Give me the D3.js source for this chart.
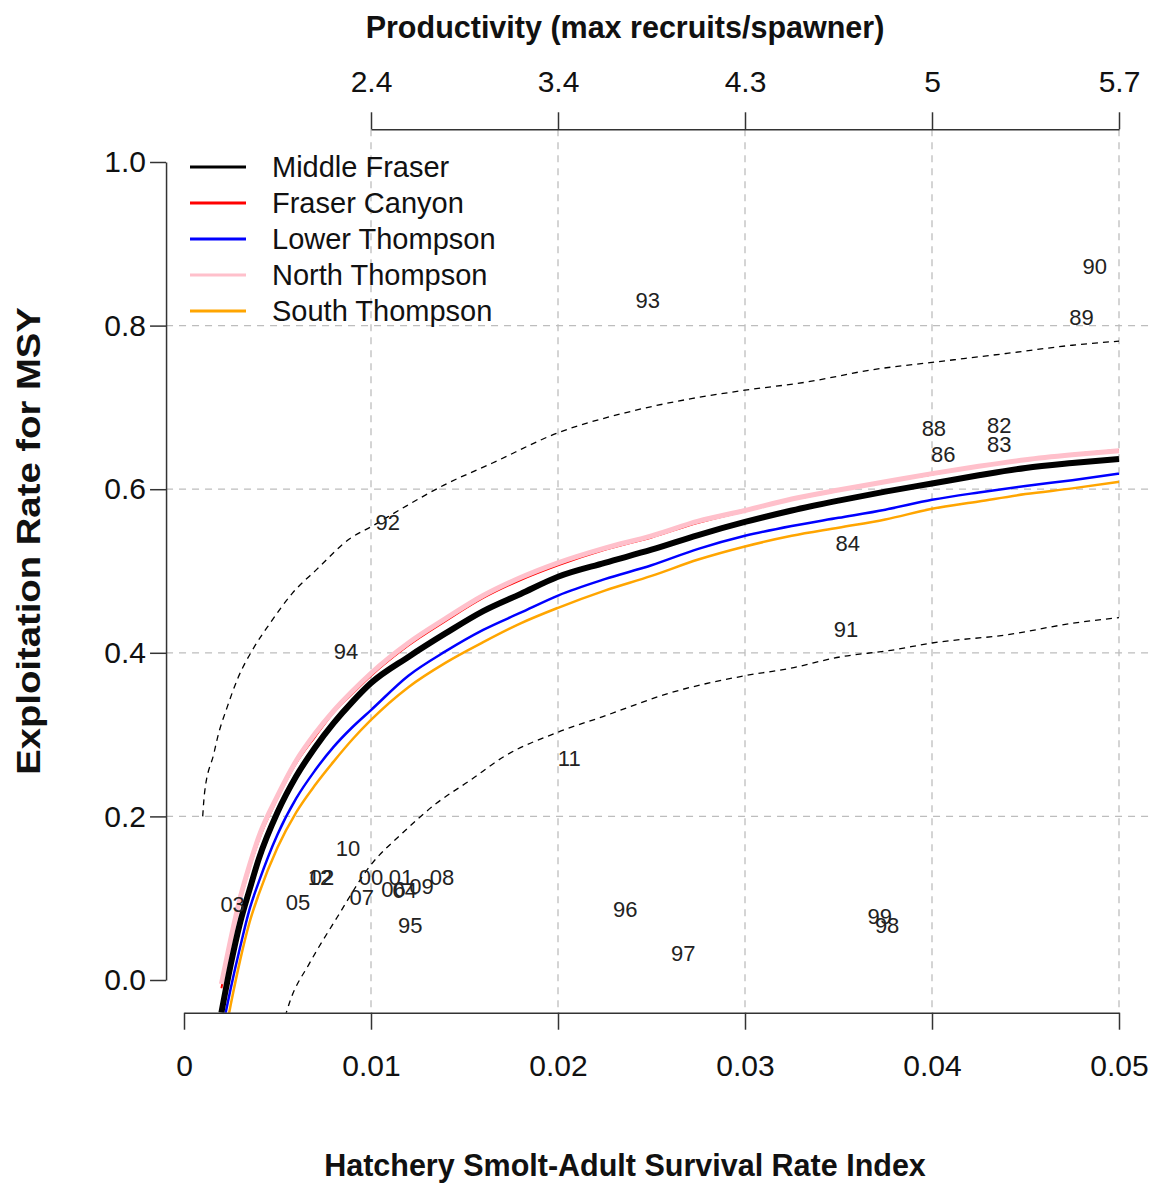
<!DOCTYPE html>
<html>
<head>
<meta charset="utf-8">
<script src="https://cdn.jsdelivr.net/npm/d3@7"></script>
<style>
  body { margin: 0; background: #fff; }
  text { font-family: "Liberation Sans", Arial, sans-serif; }
</style>
</head>
<body>
<div id="chart"></div>
<script>
// survival index grid used for the MSY curves
const survGrid = [0.002, 0.0025, 0.003, 0.0035, 0.004, 0.005, 0.006, 0.007, 0.008, 0.009, 0.010,
  0.012, 0.014, 0.016, 0.018, 0.020, 0.0225, 0.025, 0.0275, 0.030, 0.0325, 0.035, 0.0375,
  0.040, 0.0425, 0.045, 0.0475, 0.050];

const middleFraser = [-0.04, 0.019, 0.07, 0.11, 0.148, 0.205, 0.249, 0.284, 0.314, 0.340, 0.363,
  0.395, 0.424, 0.451, 0.472, 0.493, 0.510, 0.526, 0.544, 0.560, 0.574, 0.586, 0.597,
  0.607, 0.617, 0.626, 0.632, 0.637];
const fraserCanyon = [-0.01, 0.046, 0.096, 0.136, 0.171, 0.222, 0.265, 0.297, 0.327, 0.350, 0.372,
  0.409, 0.439, 0.467, 0.489, 0.507, 0.526, 0.541, 0.559, 0.573, 0.587, 0.598, 0.609,
  0.618, 0.628, 0.636, 0.643, 0.648];
const lowerThompson = [-0.065, -0.01, 0.04, 0.086, 0.12, 0.178, 0.222, 0.256, 0.285, 0.309, 0.330,
  0.372, 0.402, 0.428, 0.449, 0.470, 0.490, 0.507, 0.527, 0.543, 0.555, 0.565, 0.575,
  0.587, 0.596, 0.604, 0.611, 0.619];
const northThompson = [-0.005, 0.05, 0.10, 0.14, 0.175, 0.225, 0.268, 0.301, 0.329, 0.353, 0.375,
  0.412, 0.442, 0.470, 0.492, 0.510, 0.528, 0.543, 0.561, 0.574, 0.588, 0.599, 0.609,
  0.619, 0.628, 0.636, 0.642, 0.647];
const southThompson = [-0.09, -0.03, 0.024, 0.07, 0.105, 0.162, 0.205, 0.238, 0.267, 0.294, 0.318,
  0.358, 0.388, 0.413, 0.436, 0.455, 0.476, 0.494, 0.514, 0.530, 0.543, 0.553, 0.563,
  0.576, 0.585, 0.594, 0.601, 0.609];

// dashed envelope curves
const upperX = [0.001, 0.0011, 0.0016, 0.0018, 0.0023, 0.0029, 0.0037, 0.0046, 0.0058, 0.0071,
  0.0089, 0.010, 0.0117, 0.0139, 0.0165, 0.020, 0.0237, 0.0272, 0.030, 0.0333, 0.0368, 0.040,
  0.044, 0.0475, 0.050];
const upperY = [0.200, 0.229, 0.277, 0.297, 0.333, 0.370, 0.405, 0.436, 0.473, 0.502,
  0.540, 0.554, 0.577, 0.605, 0.632, 0.669, 0.694, 0.711, 0.721, 0.731, 0.746, 0.755,
  0.766, 0.776, 0.781];
const lowerX = [0.0054, 0.0057, 0.0067, 0.0082, 0.0099, 0.0117, 0.0135, 0.0153, 0.0171, 0.020,
  0.0224, 0.026, 0.030, 0.0324, 0.0351, 0.0378, 0.040, 0.044, 0.0475, 0.050];
const lowerY = [-0.045, -0.024, 0.020, 0.077, 0.138, 0.180, 0.216, 0.244, 0.273, 0.303,
  0.322, 0.351, 0.372, 0.381, 0.395, 0.403, 0.412, 0.422, 0.436, 0.443];

// brood-year labels
const yearLabels = ["82", "83", "84", "86", "88", "89", "90", "91", "92", "93", "94", "95", "96", "97",
  "98", "99", "00", "01", "02", "03", "04", "05", "06", "07", "08", "09", "10", "11", "12"];
const yearSurv = [0.0436, 0.0436, 0.0355, 0.0406, 0.0401, 0.0480, 0.0487, 0.0354, 0.0109, 0.0248,
  0.00866, 0.0121, 0.0236, 0.0267, 0.0376, 0.0372, 0.0100, 0.0116, 0.00738, 0.0026, 0.0118,
  0.0061, 0.0112, 0.0095, 0.0138, 0.0127, 0.00877, 0.0206, 0.00727];
const yearExpl = [0.678, 0.655, 0.534, 0.643, 0.674, 0.810, 0.872, 0.429, 0.560, 0.831,
  0.402, 0.067, 0.087, 0.033, 0.067, 0.078, 0.125, 0.126, 0.125, 0.092, 0.110,
  0.095, 0.111, 0.101, 0.125, 0.114, 0.161, 0.271, 0.126];

const seriesNames = ["Middle Fraser", "Fraser Canyon", "Lower Thompson", "North Thompson", "South Thompson"];
const seriesColors = ["#000000", "#ff0000", "#0000ff", "#ffc0cb", "#ffa500"];
const seriesValues = [middleFraser, fraserCanyon, lowerThompson, northThompson, southThompson];

const xTicks = [0, 0.01, 0.02, 0.03, 0.04, 0.05];
const yTicks = [0, 0.2, 0.4, 0.6, 0.8, 1.0];
const prodTicks = [0.01, 0.02, 0.03, 0.04, 0.05];
const prodLabels = ["2.4", "3.4", "4.3", "5", "5.7"];
const gridX = [0.01, 0.02, 0.03, 0.04, 0.05];
const gridY = [0.2, 0.4, 0.6, 0.8];

let w = 1154;
let h = 1184;

const svg = d3.select("#chart").append("svg")
    .attr("width", w)
    .attr("height", h);

const x = d3.scaleLinear().domain([0, 0.05]).range([184, 1119]);
const y = d3.scaleLinear().domain([0, 1]).range([980, 162]);

// plot region (R style 4% padding)
const px0 = x(-0.00096), px1 = x(0.05196);
const py0 = y(1.04), py1 = y(-0.04);

svg.append("clipPath").attr("id", "plotclip")
  .append("rect")
    .attr("x", px0).attr("y", py0)
    .attr("width", px1 - px0).attr("height", py1 - py0);

// grid
svg.append("g").selectAll("line")
    .data(gridX).enter().append("line")
    .attr("x1", d => x(d)).attr("x2", d => x(d))
    .attr("y1", py0).attr("y2", py1)
    .attr("stroke", "#bdbdbd").attr("stroke-width", 1.3)
    .attr("stroke-dasharray", "7,6");
svg.append("g").selectAll("line")
    .data(gridY).enter().append("line")
    .attr("x1", px0).attr("x2", px1)
    .attr("y1", d => y(d)).attr("y2", d => y(d))
    .attr("stroke", "#bdbdbd").attr("stroke-width", 1.3)
    .attr("stroke-dasharray", "7,6");

const plot = svg.append("g").attr("clip-path", "url(#plotclip)");

// dashed envelopes
const env = d3.line().x(d => x(d[0])).y(d => y(d[1])).curve(d3.curveMonotoneX);
plot.append("path")
    .attr("d", env(d3.zip(upperX, upperY)))
    .attr("fill", "none").attr("stroke", "#000").attr("stroke-width", 1.3)
    .attr("stroke-dasharray", "6,5");
plot.append("path")
    .attr("d", env(d3.zip(lowerX, lowerY)))
    .attr("fill", "none").attr("stroke", "#000").attr("stroke-width", 1.3)
    .attr("stroke-dasharray", "6,5");

// MSY curves
const curve = d3.line().x((d, i) => x(survGrid[i])).y(d => y(d)).curve(d3.curveMonotoneX);
const drawOrder = [1, 3, 2, 4, 0];
const widths = [6, 2, 2.5, 5, 2.5];
drawOrder.forEach(i => {
  plot.append("path")
      .attr("d", curve(seriesValues[i]))
      .attr("fill", "none")
      .attr("stroke", seriesColors[i])
      .attr("stroke-width", widths[i]);
});

// year labels
svg.append("g").selectAll("text")
    .data(yearLabels).enter().append("text")
    .attr("x", (d, i) => x(yearSurv[i]))
    .attr("y", (d, i) => y(yearExpl[i]))
    .attr("dy", "0.35em")
    .attr("text-anchor", "middle")
    .attr("font-size", 22)
    .attr("fill", "#222")
    .text(d => d);

// axes
const axisBottom = svg.append("g")
    .attr("transform", `translate(0,${py1})`)
    .call(d3.axisBottom(x).tickValues(xTicks).tickSize(17).tickSizeOuter(0).tickPadding(25)
      .tickFormat(d => d === 0 ? "0" : d3.format(".2f")(d)));
const axisLeft = svg.append("g")
    .attr("transform", `translate(${px0},0)`)
    .call(d3.axisLeft(y).tickValues(yTicks).tickSize(16).tickSizeOuter(0).tickPadding(4)
      .tickFormat(d3.format(".1f")));
const xTop = d3.scaleLinear().domain([0.01, 0.05]).range([x(0.01), x(0.05)]);
const axisTop = svg.append("g")
    .attr("transform", `translate(0,${py0})`)
    .call(d3.axisTop(xTop).tickValues(prodTicks).tickSize(17).tickSizeOuter(0).tickPadding(20)
      .tickFormat((d, i) => prodLabels[i]));

[axisBottom, axisLeft, axisTop].forEach(g => {
  g.selectAll("path, line").attr("stroke", "#333").attr("stroke-width", 1.5);
  g.selectAll("text").attr("font-size", 30).attr("fill", "#111")
    .style("font-family", "'Liberation Sans', Arial, sans-serif");
});

// titles
svg.append("text")
    .attr("x", 625).attr("y", 38)
    .attr("text-anchor", "middle")
    .attr("font-size", 30.5).attr("font-weight", "bold").attr("fill", "#111")
    .text("Productivity (max recruits/spawner)");
svg.append("text")
    .attr("x", 625).attr("y", 1176)
    .attr("text-anchor", "middle")
    .attr("font-size", 30.5).attr("font-weight", "bold").attr("fill", "#111")
    .text("Hatchery Smolt-Adult Survival Rate Index");
svg.append("text")
    .attr("transform", "translate(40,541) rotate(-90) scale(1.16,1)")
    .attr("text-anchor", "middle")
    .attr("font-size", 33).attr("font-weight", "bold").attr("fill", "#111")
    .text("Exploitation Rate for MSY");

// legend
const legend = svg.append("g");
seriesNames.forEach((name, i) => {
  const ly = 167 + i * 36;
  legend.append("line")
      .attr("x1", 190).attr("x2", 246)
      .attr("y1", ly).attr("y2", ly)
      .attr("stroke", seriesColors[i]).attr("stroke-width", 2.8);
  legend.append("text")
      .attr("x", 272).attr("y", ly)
      .attr("dy", "0.35em")
      .attr("font-size", 29).attr("fill", "#111")
      .text(name);
});
</script>
</body>
</html>
